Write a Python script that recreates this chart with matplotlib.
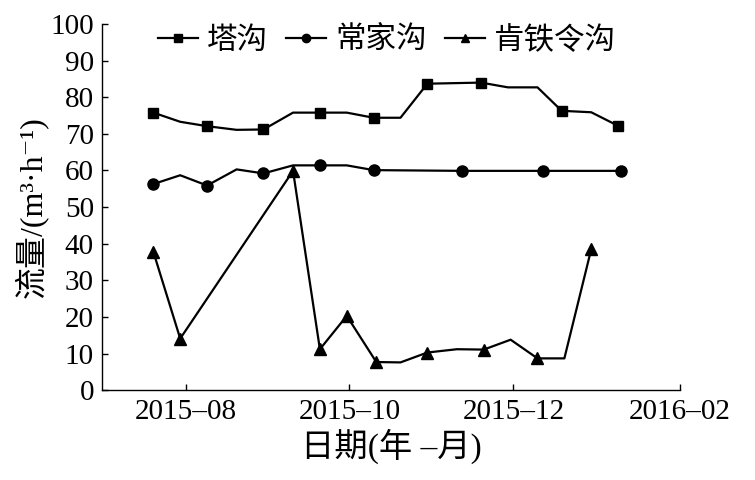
import matplotlib
matplotlib.use("Agg")
import matplotlib.pyplot as plt
import matplotlib.dates as mdates
import pandas as pd

plt.rcParams['font.family'] = ['Liberation Serif', 'Noto Sans CJK SC', 'DejaVu Serif']

# 塔沟
ta_dates = ['2015-07-20', '2015-07-30', '2015-08-09', '2015-08-20', '2015-08-30',
            '2015-09-10', '2015-09-20', '2015-09-30', '2015-10-10', '2015-10-20',
            '2015-10-30', '2015-11-19', '2015-11-29', '2015-12-10', '2015-12-19',
            '2015-12-30', '2016-01-09']
ta_vals = [75.8, 73.3, 72.1, 71.1, 71.2, 75.8, 75.8, 75.8, 74.4, 74.4,
           83.7, 84.0, 82.7, 82.7, 76.3, 75.9, 72.2]
ta_marks = [0, 2, 4, 6, 8, 10, 11, 14, 16]

# 常家沟
cj_dates = ['2015-07-20', '2015-07-30', '2015-08-09', '2015-08-20', '2015-08-30',
            '2015-09-10', '2015-09-20', '2015-09-30', '2015-10-10', '2015-11-12',
            '2015-12-12', '2016-01-10']
cj_vals = [56.3, 58.7, 55.9, 60.3, 59.2, 61.4, 61.4, 61.4, 60.1, 59.9, 59.9, 59.9]
cj_marks = [0, 2, 4, 6, 8, 9, 10, 11]

# 肯铁令沟
kt_dates = ['2015-07-20', '2015-07-30', '2015-09-10', '2015-09-20', '2015-09-30',
            '2015-10-11', '2015-10-20', '2015-10-30', '2015-11-10', '2015-11-20',
            '2015-11-30', '2015-12-10', '2015-12-20', '2015-12-30']
kt_vals = [37.8, 14.1, 59.9, 11.2, 20.3, 7.7, 7.6, 10.3, 11.2, 11.1, 13.8, 8.7, 8.7, 38.5]
kt_marks = [0, 1, 2, 3, 4, 5, 7, 9, 11, 13]

series_names = ['塔沟', '常家沟', '肯铁令沟']
x_ticks = ['2015-08-01', '2015-10-01', '2015-12-01', '2016-02-01']
y_ticks = list(range(0, 101, 10))

fig = plt.figure(figsize=(7.55, 4.8), dpi=100)
ax = fig.add_axes([0.1355, 0.187, 0.765, 0.763])

lw = 1.6
ax.plot(pd.to_datetime(ta_dates), ta_vals, color='black', lw=lw, marker='s', ms=7.5,
        markevery=ta_marks, label=series_names[0])
ax.plot(pd.to_datetime(cj_dates), cj_vals, color='black', lw=lw, marker='o', ms=8,
        markevery=cj_marks, label=series_names[1])
ax.plot(pd.to_datetime(kt_dates), kt_vals, color='black', lw=lw, marker='^', ms=8,
        markevery=kt_marks, label=series_names[2])

ax.set_xlim(pd.Timestamp('2015-07-01'), pd.Timestamp('2016-02-01'))
ax.set_ylim(0, 100)
ax.set_xticks(pd.to_datetime(x_ticks))
ax.xaxis.set_major_formatter(mdates.DateFormatter('%Y–%m'))
ax.set_yticks(y_ticks)

for s in ['top', 'right']:
    ax.spines[s].set_visible(False)
for s in ['left', 'bottom']:
    ax.spines[s].set_linewidth(1.0)

ax.tick_params(axis='both', direction='in', length=4, width=1, labelsize=21, pad=6)

ax.set_xlabel('日期(年 –月)', fontsize=24, labelpad=3)
ax.set_ylabel('流量/(m³·h⁻¹)', fontsize=23, labelpad=2)

leg = ax.legend(loc='center left', bbox_to_anchor=(0.075, 0.953), ncol=3, frameon=False,
                fontsize=22, handlelength=1.3, handletextpad=0.3, columnspacing=0.6,
                markerscale=0.75, borderaxespad=0)

fig.savefig('out.png', dpi=100)
